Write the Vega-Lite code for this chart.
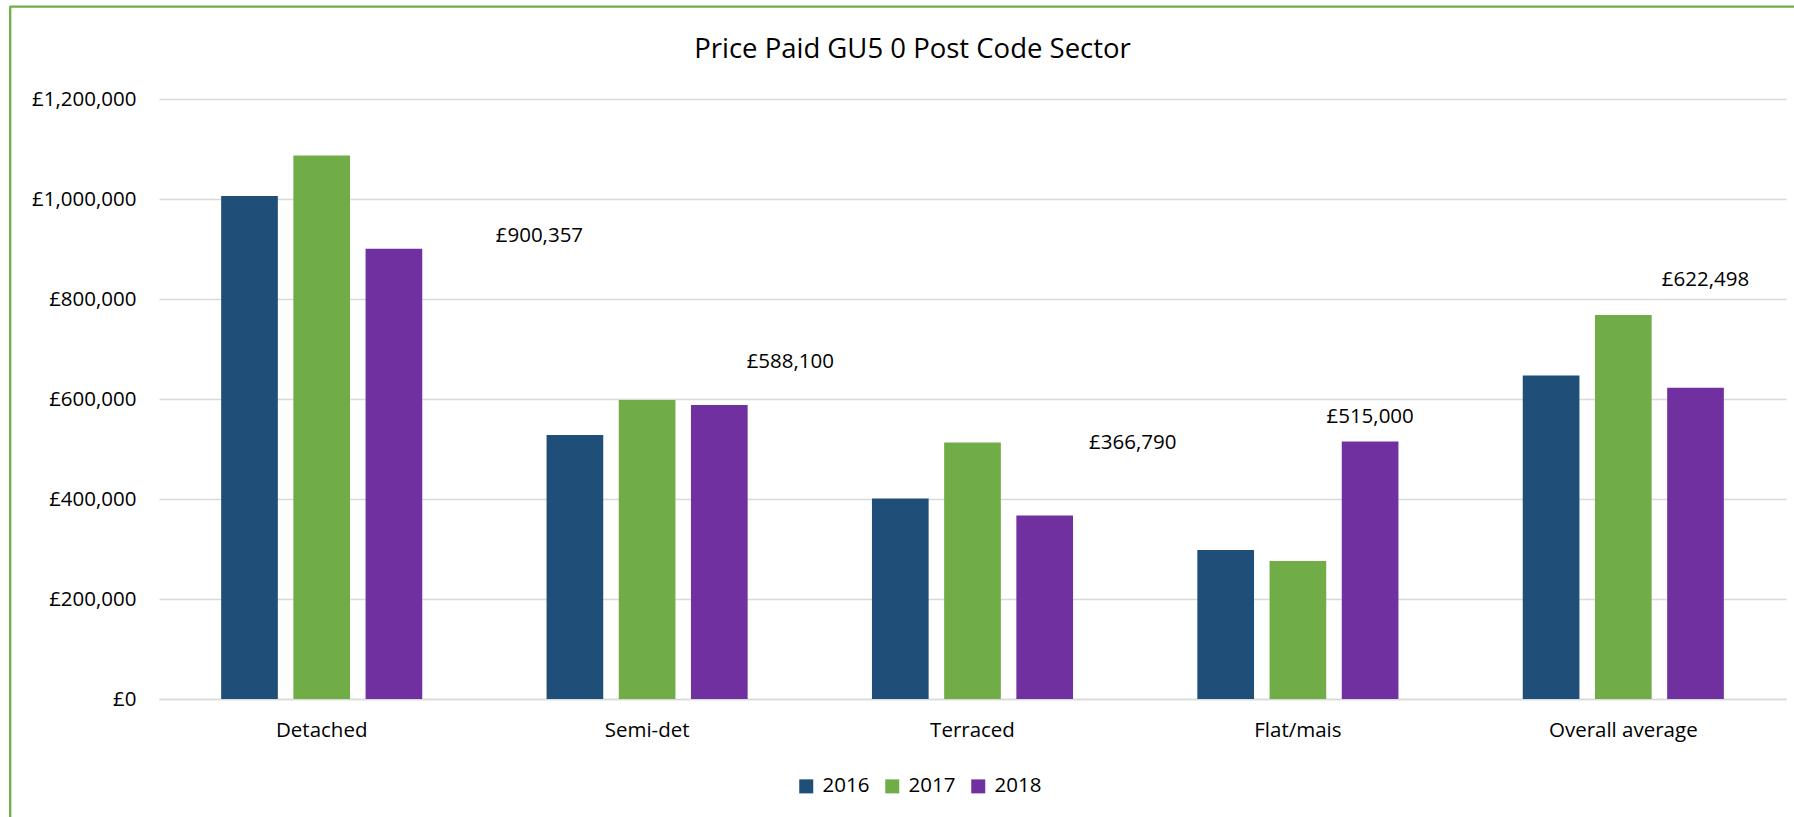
{
  "$schema": "https://vega.github.io/schema/vega-lite/v6.json",
  "usermeta": {"embedOptions": {"actions": false}},
  "width": 1627,
  "height": 600,
  "autosize": {"type": "none"},
  "padding": {"left": 159, "top": 99, "right": 8, "bottom": 118},
  "background": "white",
  "title": {
    "text": "Price Paid GU5 0 Post Code Sector",
    "font": "Open Sans",
    "fontSize": 27.5,
    "fontWeight": "normal",
    "color": "#000000",
    "anchor": "middle",
    "baseline": "alphabetic",
    "dx": -60,
    "offset": -79
  },
  "data": {
    "values": [
      {"type": "Detached", "year": "2016", "price": 1006000},
      {"type": "Detached", "year": "2017", "price": 1087000},
      {"type": "Detached", "year": "2018", "price": 900357},
      {"type": "Semi-det", "year": "2016", "price": 528000},
      {"type": "Semi-det", "year": "2017", "price": 598000},
      {"type": "Semi-det", "year": "2018", "price": 588100},
      {"type": "Terraced", "year": "2016", "price": 401000},
      {"type": "Terraced", "year": "2017", "price": 513000},
      {"type": "Terraced", "year": "2018", "price": 366790},
      {"type": "Flat/mais", "year": "2016", "price": 298000},
      {"type": "Flat/mais", "year": "2017", "price": 276000},
      {"type": "Flat/mais", "year": "2018", "price": 515000},
      {"type": "Overall average", "year": "2016", "price": 647000},
      {"type": "Overall average", "year": "2017", "price": 768000},
      {"type": "Overall average", "year": "2018", "price": 622498}
    ]
  },
  "layer": [
    {
      "encoding": {
        "x": {
          "field": "type",
          "type": "nominal",
          "sort": ["Detached", "Semi-det", "Terraced", "Flat/mais", "Overall average"],
          "scale": {"paddingInner": 0.382, "paddingOuter": 0.191},
          "title": null,
          "axis": {
            "orient": "bottom",
            "labelAngle": 0,
            "labelFont": "Open Sans",
            "labelFontSize": 20.5,
            "labelColor": "#000000",
            "labelPadding": 21,
            "ticks": false,
            "tickSize": 0,
            "domainColor": "#D9D9D9",
            "domainWidth": 1.5,
            "grid": false
          }
        },
        "xOffset": {
          "field": "year",
          "type": "nominal",
          "scale": {"paddingInner": 0.215, "paddingOuter": 0}
        },
        "y": {
          "field": "price",
          "type": "quantitative",
          "scale": {"domain": [0, 1200000], "nice": false},
          "title": null,
          "axis": {
            "orient": "left",
            "values": [0, 200000, 400000, 600000, 800000, 1000000, 1200000],
            "format": "$,.0f",
            "labelFont": "Open Sans",
            "labelFontSize": 20.5,
            "labelColor": "#000000",
            "labelPadding": 23,
            "ticks": false,
            "tickSize": 0,
            "domain": false,
            "gridColor": "#D9D9D9",
            "gridWidth": 1.4
          }
        }
      },
      "layer": [
        {
          "mark": {"type": "bar"},
          "encoding": {
            "color": {
              "field": "year",
              "type": "nominal",
              "scale": {"domain": ["2016", "2017", "2018"], "range": ["#1F4E79", "#70AD47", "#7030A0"]},
              "legend": {
                "orient": "none",
                "direction": "horizontal",
                "legendX": 637,
                "legendY": 677,
                "title": null,
                "symbolType": "square",
                "symbolSize": 196,
                "symbolStrokeWidth": 0,
                "labelFont": "Open Sans",
                "labelFontSize": 20.5,
                "labelColor": "#000000",
                "labelOffset": 6,
                "columnPadding": 12,
                "padding": 0
              }
            }
          }
        },
        {
          "transform": [{"filter": "datum.type === 'Detached' && datum.year === '2018'"}],
          "mark": {"type": "text", "align": "center", "baseline": "alphabetic", "font": "Open Sans", "fontSize": 20.5, "color": "#000000", "dx": 145.5, "dy": -6.5},
          "encoding": {"text": {"field": "price", "type": "quantitative", "format": "$,.0f"}}
        },
        {
          "transform": [{"filter": "datum.type === 'Semi-det' && datum.year === '2018'"}],
          "mark": {"type": "text", "align": "center", "baseline": "alphabetic", "font": "Open Sans", "fontSize": 20.5, "color": "#000000", "dx": 71, "dy": -36.6},
          "encoding": {"text": {"field": "price", "type": "quantitative", "format": "$,.0f"}}
        },
        {
          "transform": [{"filter": "datum.type === 'Terraced' && datum.year === '2018'"}],
          "mark": {"type": "text", "align": "center", "baseline": "alphabetic", "font": "Open Sans", "fontSize": 20.5, "color": "#000000", "dx": 88, "dy": -66.6},
          "encoding": {"text": {"field": "price", "type": "quantitative", "format": "$,.0f"}}
        },
        {
          "transform": [{"filter": "datum.type === 'Flat/mais' && datum.year === '2018'"}],
          "mark": {"type": "text", "align": "center", "baseline": "alphabetic", "font": "Open Sans", "fontSize": 20.5, "color": "#000000", "dx": 0, "dy": -18.2},
          "encoding": {"text": {"field": "price", "type": "quantitative", "format": "$,.0f"}}
        },
        {
          "transform": [{"filter": "datum.type === 'Overall average' && datum.year === '2018'"}],
          "mark": {"type": "text", "align": "center", "baseline": "alphabetic", "font": "Open Sans", "fontSize": 20.5, "color": "#000000", "dx": 10, "dy": -101.7},
          "encoding": {"text": {"field": "price", "type": "quantitative", "format": "$,.0f"}}
        }
      ]
    },
    {
      "mark": {"type": "text", "text": "", "opacity": 0},
      "encoding": {
        "x": {
          "field": "price",
          "type": "quantitative",
          "title": null,
          "scale": {"range": [-150, 1720]},
          "axis": {"orient": "top", "offset": 92.8, "labels": false, "ticks": false, "grid": false, "domainColor": "#70AD47", "domainWidth": 2.3}
        },
        "y": {
          "field": "price",
          "type": "quantitative",
          "title": null,
          "scale": {"range": [760, -93]},
          "axis": {"orient": "left", "offset": 149.3, "labels": false, "ticks": false, "grid": false, "domainColor": "#70AD47", "domainWidth": 2.3}
        }
      }
    }
  ],
  "resolve": {
    "scale": {"x": "independent", "y": "independent"},
    "axis": {"x": "independent", "y": "independent"}
  },
  "config": {
    "view": {"stroke": null},
    "locale": {
      "number": {"decimal": ".", "thousands": ",", "grouping": [3], "currency": ["£", ""]}
    }
  }
}
